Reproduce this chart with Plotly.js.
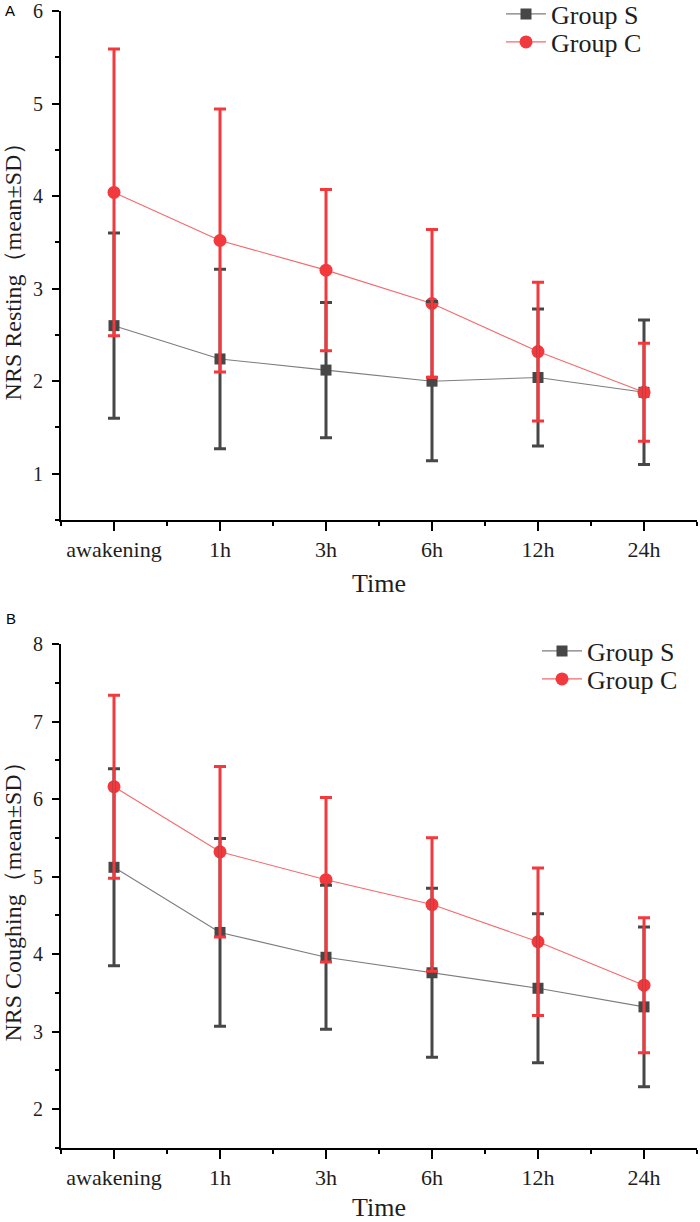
<!DOCTYPE html>
<html>
<head>
<meta charset="utf-8">
<script src="https://cdn.plot.ly/plotly-3.0.1.min.js"></script>
<style>
  html, body { margin: 0; padding: 0; background: #ffffff; }
  #chart { width: 700px; height: 1222px; }
</style>
</head>
<body>
<div id="chart"></div>
<script>
// Time points after surgery
const categories = ['awakening', '1h', '3h', '6h', '12h', '24h'];

// NRS at rest: mean and SD per group
const restS   = [2.60, 2.24, 2.12, 2.00, 2.04, 1.88];
const restSsd = [1.00, 0.97, 0.73, 0.86, 0.74, 0.78];
const restC   = [4.04, 3.52, 3.20, 2.84, 2.32, 1.88];
const restCsd = [1.55, 1.42, 0.87, 0.80, 0.75, 0.53];

// NRS while coughing: mean and SD per group
const coughS   = [5.12, 4.28, 3.96, 3.76, 3.56, 3.32];
const coughSsd = [1.27, 1.21, 0.93, 1.09, 0.96, 1.03];
const coughC   = [6.16, 5.32, 4.96, 4.64, 4.16, 3.60];
const coughCsd = [1.18, 1.10, 1.06, 0.86, 0.95, 0.87];

const seriesNames = ['Group S', 'Group C'];
const yTitles = ['NRS Resting\uFF08mean\u00B1SD\uFF09', 'NRS Coughing\uFF08mean\u00B1SD\uFF09'];

const xIdx = categories.map((_, i) => i);

const DARK = '#474747';
const DARK_LINE = '#7d7d7d';
const RED = '#f2393d';
const RED_LINE = '#f5696b';
const SERIF = 'Liberation Serif, Times New Roman, serif';
const INK = '#1e1e1e';

function lineTrace(y, name, isS, xa, ya, legend) {
  return {
    x: xIdx, y: y, name: name, xaxis: xa, yaxis: ya, legend: legend,
    type: 'scatter', mode: 'lines+markers', hoverinfo: 'skip',
    line: { color: isS ? DARK_LINE : RED_LINE, width: 1.1 },
    marker: isS
      ? { symbol: 'square', size: 11, color: DARK }
      : { symbol: 'circle', size: 13, color: RED }
  };
}

function errTrace(y, sd, isS, xa, ya) {
  return {
    x: xIdx, y: y, xaxis: xa, yaxis: ya, showlegend: false,
    type: 'scatter', mode: 'markers', hoverinfo: 'skip',
    marker: { size: 1, opacity: 0 },
    error_y: {
      type: 'data', array: sd, visible: true,
      color: isS ? DARK : RED, thickness: 3, width: 6
    }
  };
}

// S and C curves first, then the SD bars of each group on top
const data = [
  lineTrace(restS, seriesNames[0], true, 'x', 'y', 'legend'),
  lineTrace(restC, seriesNames[1], false, 'x', 'y', 'legend2'),
  errTrace(restS, restSsd, true, 'x', 'y'),
  errTrace(restC, restCsd, false, 'x', 'y'),
  lineTrace(coughS, seriesNames[0], true, 'x2', 'y2', 'legend3'),
  lineTrace(coughC, seriesNames[1], false, 'x2', 'y2', 'legend4'),
  errTrace(coughS, coughSsd, true, 'x2', 'y2'),
  errTrace(coughC, coughCsd, false, 'x2', 'y2')
];

const H = 1222;
function dom(topPx, botPx) { return [1 - botPx / H, 1 - topPx / H]; }

function xAxis(anchor) {
  return {
    anchor: anchor, domain: [0, 1], range: [-0.5, 5.5],
    tickmode: 'array', tickvals: xIdx, ticktext: categories,
    ticks: 'outside', ticklen: 9, tickwidth: 2, tickcolor: '#000',
    showline: true, linecolor: '#000', linewidth: 2,
    showgrid: false, zeroline: false, automargin: false,
    tickfont: { family: SERIF, size: 22, color: INK },
    minor: { tick0: -0.5, dtick: 1, ticks: 'outside', ticklen: 4, tickwidth: 2, tickcolor: '#000', showgrid: false },
    title: { text: 'Time', font: { family: SERIF, size: 26, color: INK }, standoff: 12 },
    fixedrange: true
  };
}

function yAxis(anchor, domain, range, title) {
  return {
    anchor: anchor, domain: domain, range: range,
    tick0: 0, dtick: 1,
    ticks: 'outside', ticklen: 7, tickwidth: 2, tickcolor: '#000',
    showline: true, linecolor: '#000', linewidth: 2,
    showgrid: false, zeroline: false, automargin: false,
    tickfont: { family: SERIF, size: 20, color: INK },
    ticklabelstandoff: 5, ticklabeloverflow: 'allow',
    minor: { tick0: 0, dtick: 0.5, ticks: 'outside', ticklen: 4, tickwidth: 2, tickcolor: '#000', showgrid: false },
    title: { text: title, font: { family: SERIF, size: 24, color: INK }, standoff: 12 },
    fixedrange: true
  };
}

function legendAt(xPx, rowPx) {
  return {
    x: (xPx - 61) / 636, y: 1 - rowPx / H,
    xanchor: 'left', yanchor: 'middle', bgcolor: 'rgba(0,0,0,0)', borderwidth: 0,
    font: { family: SERIF, size: 26, color: INK }, itemwidth: 40
  };
}

const layout = {
  width: 700, height: H,
  margin: { l: 61, r: 3, t: 0, b: 0, autoexpand: false },
  paper_bgcolor: '#ffffff', plot_bgcolor: '#ffffff',
  showlegend: true,
  xaxis: xAxis('y'),
  yaxis: yAxis('x', dom(11, 520), [0.5, 6], yTitles[0]),
  xaxis2: xAxis('y2'),
  yaxis2: yAxis('x2', dom(644, 1148), [1.5, 8], yTitles[1]),
  legend:  legendAt(501, 14),
  legend2: legendAt(501, 42),
  legend3: legendAt(537, 651),
  legend4: legendAt(537, 679),
  annotations: [
    { text: 'A', xref: 'paper', yref: 'paper', x: -0.08, y: 1 - 11 / H, xanchor: 'center', yanchor: 'middle',
      showarrow: false, font: { family: 'Liberation Sans, Arial, sans-serif', size: 15, color: '#000' } },
    { text: 'B', xref: 'paper', yref: 'paper', x: -0.078, y: 1 - 618 / H, xanchor: 'center', yanchor: 'middle',
      showarrow: false, font: { family: 'Liberation Sans, Arial, sans-serif', size: 15, color: '#000' } }
  ]
};

Plotly.newPlot('chart', data, layout, { staticPlot: true, displayModeBar: false });
</script>
</body>
</html>
